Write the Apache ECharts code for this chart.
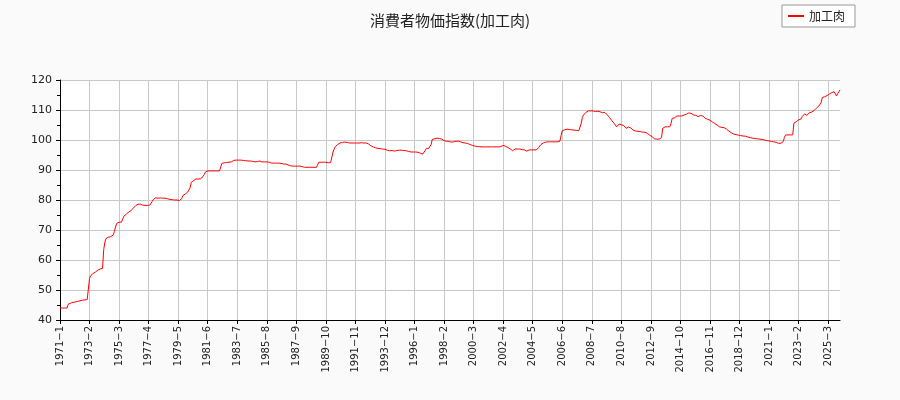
<!DOCTYPE html>
<html>

<head>
  <meta charset="utf-8" />
  <script src="https://cdn.jsdelivr.net/npm/echarts@6/dist/echarts.min.js"></script>
  <style>
    html, body { margin: 0; padding: 0; background: #fafafa; }
    #chart { width: 900px; height: 400px; }
  </style>
</head>

<body>
  <div id="chart"></div>
  <script type="text/javascript">
    const seriesName = "加工肉";
    const titleText = "消費者物価指数(加工肉)";
    const startYear = 1971;

    // monthly index values, one row per year starting 1971-1
    const v1971 = [44.0, 44.0, 44.0, 44.0, 44.0, 44.0, 44.0, 45.3, 45.5, 45.6, 45.8, 45.9];
    const v1972 = [46.0, 46.0, 46.1, 46.2, 46.3, 46.4, 46.5, 46.6, 46.6, 46.7, 46.8, 46.8];
    const v1973 = [46.8, 53.9, 54.8, 55.3, 55.5, 55.8, 56.0, 56.3, 56.6, 56.8, 57.0, 57.2];
    const v1974 = [57.2, 63.5, 66.0, 67.2, 67.5, 67.6, 67.6, 67.8, 68.0, 68.3, 69.5, 71.0];
    const v1975 = [72.2, 72.8, 72.6, 72.6, 72.6, 73.6, 74.6, 75.0, 75.2, 75.4, 76.0, 76.3];
    const v1976 = [76.4, 76.8, 77.3, 77.8, 78.1, 78.4, 78.6, 78.6, 78.6, 78.3, 78.3, 78.3];
    const v1977 = [78.2, 78.2, 78.2, 78.3, 78.3, 78.5, 79.5, 80.2, 80.5, 80.7, 80.6, 80.6];
    const v1978 = [80.6, 80.7, 80.7, 80.6, 80.6, 80.6, 80.5, 80.4, 80.2, 80.2, 80.1, 80.1];
    const v1979 = [80.0, 80.0, 80.0, 80.0, 79.9, 79.8, 79.5, 80.5, 81.5, 81.7, 82.0, 82.4];
    const v1980 = [82.6, 82.7, 84.0, 85.8, 86.0, 86.5, 86.9, 87.0, 87.0, 87.0, 87.0, 87.1];
    const v1981 = [87.2, 87.8, 88.5, 89.3, 89.7, 89.7, 89.7, 89.7, 89.7, 89.7, 89.7, 89.7];
    const v1982 = [89.7, 89.7, 89.7, 89.7, 89.8, 92.2, 92.3, 92.4, 92.5, 92.5, 92.5, 92.6];
    const v1983 = [92.6, 92.7, 93.0, 93.2, 93.3, 93.3, 93.3, 93.3, 93.3, 93.3, 93.2, 93.2];
    const v1984 = [93.2, 93.1, 93.0, 93.0, 93.0, 93.0, 93.0, 92.9, 92.9, 92.7, 92.7, 92.8];
    const v1985 = [93.3, 93.0, 92.7, 92.7, 92.7, 92.7, 92.7, 92.7, 92.7, 92.6, 92.4, 92.3];
    const v1986 = [92.3, 92.3, 92.3, 92.3, 92.3, 92.3, 92.3, 92.2, 92.0, 92.0, 92.0, 92.0];
    const v1987 = [91.8, 91.7, 91.5, 91.4, 91.5, 91.3, 91.4, 91.3, 91.5, 91.3, 91.3, 91.3];
    const v1988 = [91.2, 91.1, 91.0, 90.9, 90.9, 90.9, 90.9, 90.9, 90.9, 90.9, 90.9, 90.9];
    const v1989 = [90.9, 90.9, 90.9, 92.6, 92.7, 92.6, 92.6, 92.6, 92.6, 92.6, 92.6, 92.4];
    const v1990 = [92.3, 92.5, 92.6, 96.0, 97.0, 97.8, 98.2, 98.5, 98.8, 99.0, 99.1, 99.2];
    const v1991 = [99.3, 99.3, 99.3, 99.2, 99.1, 99.0, 99.0, 99.0, 99.0, 99.0, 99.0, 99.0];
    const v1992 = [99.0, 99.0, 99.0, 99.1, 99.0, 99.0, 99.0, 99.0, 98.8, 98.7, 98.4, 98.1];
    const v1993 = [97.8, 97.7, 97.5, 97.4, 97.3, 97.2, 97.2, 97.1, 97.0, 97.0, 96.9, 96.9];
    const v1994 = [96.8, 96.6, 96.5, 96.4, 96.4, 96.5, 96.4, 96.3, 96.3, 96.5, 96.6, 96.6];
    const v1995 = [96.7, 96.6, 96.6, 96.5, 96.5, 96.4, 96.3, 96.2, 96.1, 96.0, 96.0, 96.0];
    const v1996 = [96.0, 96.0, 96.0, 95.9, 95.8, 95.6, 95.5, 95.3, 95.4, 96.5, 97.2, 97.2];
    const v1997 = [97.2, 97.3, 98.5, 100.2, 100.3, 100.4, 100.5, 100.6, 100.6, 100.5, 100.4, 100.3];
    const v1998 = [100.0, 99.8, 99.7, 99.6, 99.5, 99.5, 99.4, 99.3, 99.3, 99.4, 99.5, 99.6];
    const v1999 = [99.6, 99.6, 99.6, 99.4, 99.2, 99.1, 99.0, 99.0, 98.9, 98.8, 98.6, 98.5];
    const v2000 = [98.3, 98.2, 98.1, 98.0, 97.9, 97.8, 97.8, 97.8, 97.8, 97.7, 97.7, 97.7];
    const v2001 = [97.7, 97.7, 97.7, 97.7, 97.7, 97.7, 97.7, 97.7, 97.7, 97.7, 97.7, 97.7];
    const v2002 = [97.7, 97.8, 98.0, 98.2, 98.0, 97.9, 97.8, 97.5, 97.3, 97.0, 96.8, 96.4];
    const v2003 = [96.6, 97.0, 97.0, 97.0, 97.0, 97.0, 96.9, 96.8, 96.7, 96.7, 96.6, 96.3];
    const v2004 = [96.7, 96.7, 96.7, 96.7, 96.7, 96.7, 96.7, 96.7, 96.8, 97.5, 98.0, 98.5];
    const v2005 = [98.9, 99.0, 99.1, 99.3, 99.3, 99.4, 99.4, 99.4, 99.4, 99.4, 99.4, 99.4];
    const v2006 = [99.4, 99.4, 99.4, 99.6, 101.5, 103.1, 103.3, 103.4, 103.6, 103.6, 103.6, 103.5];
    const v2007 = [103.4, 103.4, 103.3, 103.3, 103.3, 103.2, 103.2, 103.1, 103.2, 105.5, 107.5, 108.3];
    const v2008 = [108.8, 109.2, 109.5, 109.7, 109.7, 109.7, 109.7, 109.7, 109.6, 109.5, 109.4, 109.6];
    const v2009 = [109.7, 109.4, 109.2, 109.1, 109.3, 109.2, 109.0, 108.4, 108.0, 107.5, 107.0, 106.4];
    const v2010 = [106.1, 105.5, 105.0, 104.4, 103.9, 105.3, 105.3, 105.1, 105.0, 104.8, 104.3, 103.9];
    const v2011 = [104.2, 104.3, 104.5, 104.0, 103.6, 103.3, 103.1, 103.0, 103.0, 102.9, 102.8, 102.8];
    const v2012 = [102.7, 102.6, 102.6, 102.6, 102.5, 102.2, 101.9, 101.6, 101.3, 101.1, 100.8, 100.4];
    const v2013 = [100.3, 100.3, 100.3, 100.3, 100.8, 100.8, 103.9, 104.3, 104.4, 104.4, 104.4, 104.3];
    const v2014 = [104.4, 105.5, 107.2, 107.2, 107.4, 107.6, 108.0, 108.3, 108.0, 107.8, 108.0, 108.2];
    const v2015 = [108.3, 108.4, 108.6, 108.8, 109.0, 109.1, 108.9, 108.7, 108.4, 108.3, 108.2, 108.0];
    const v2016 = [107.8, 108.0, 108.2, 108.3, 108.0, 107.4, 107.2, 107.0, 106.9, 106.7, 106.6, 106.3];
    const v2017 = [106.0, 105.8, 105.5, 105.2, 105.0, 104.7, 104.4, 104.2, 104.2, 104.1, 104.1, 104.0];
    const v2018 = [103.6, 103.2, 103.0, 102.7, 102.4, 102.1, 102.0, 101.9, 101.8, 101.7, 101.6, 101.6];
    const v2019 = [101.5, 101.4, 101.3, 101.3, 101.3, 101.2, 101.0, 100.9, 100.8, 100.7, 100.6, 100.5];
    const v2020 = [100.5, 100.4, 100.4, 100.3, 100.3, 100.2, 100.2, 100.1, 100.0, 99.9, 99.8, 99.7];
    const v2021 = [99.7, 99.6, 99.5, 99.4, 99.4, 99.3, 99.2, 99.0, 98.9, 98.9, 98.9, 98.9];
    const v2022 = [99.5, 100.9, 101.7, 101.7, 101.7, 101.7, 101.7, 101.7, 101.7, 105.6, 106.0, 106.1];
    const v2023 = [106.7, 106.7, 106.7, 107.0, 107.8, 108.3, 108.7, 108.9, 108.2, 107.6, 109.1, 109.2];
    const v2024 = [109.3, 109.4, 109.8, 110.2, 110.6, 111.0, 111.3, 111.5, 112.4, 114.2, 114.2, 114.4];
    const v2025 = [114.5, 114.8, 115.0, 115.3, 115.6, 115.8, 116.0, 116.1, 115.5, 114.7, 115.4, 115.8];
    const v2026 = [116.7];

    const values = [].concat(
      v1971, v1972, v1973, v1974, v1975, v1976, v1977, v1978, v1979, v1980,
      v1981, v1982, v1983, v1984, v1985, v1986, v1987, v1988, v1989, v1990,
      v1991, v1992, v1993, v1994, v1995, v1996, v1997, v1998, v1999, v2000,
      v2001, v2002, v2003, v2004, v2005, v2006, v2007, v2008, v2009, v2010,
      v2011, v2012, v2013, v2014, v2015, v2016, v2017, v2018, v2019, v2020,
      v2021, v2022, v2023, v2024, v2025, v2026
    );

    // category labels "YYYY-M"
    const months = values.map((_, i) => (startYear + Math.floor(i / 12)) + "-" + (i % 12 + 1));

    const chart = echarts.init(document.getElementById("chart"));
    const font = "DejaVu Sans";

    var option = {
      animation: false,
      backgroundColor: "#fafafa",
      title: {
        text: titleText,
        left: "center",
        top: 8,
        textStyle: { fontFamily: "Noto Sans CJK JP", fontSize: 15, fontWeight: "normal", color: "#222" }
      },
      legend: {
        right: 45,
        top: 5,
        padding: [5, 10, 5, 6],
        borderColor: "#999",
        borderWidth: 1,
        borderRadius: 0,
        backgroundColor: "#fff",
        itemWidth: 16,
        itemHeight: 2,
        itemGap: 8,
        icon: "rect",
        textStyle: { fontFamily: "Noto Sans CJK JP", fontSize: 12, color: "#222" },
        data: [seriesName]
      },
      grid: {
        left: 60,
        right: 60,
        top: 80,
        bottom: 80,
        show: true,
        backgroundColor: "#fff",
        borderWidth: 0
      },
      xAxis: {
        type: "category",
        data: months,
        boundaryGap: false,
        axisLine: { lineStyle: { color: "#000", width: 1 } },
        axisTick: { interval: 24, length: 4, lineStyle: { color: "#000" } },
        axisLabel: {
          interval: 24,
          rotate: 90,
          fontFamily: font,
          fontSize: 10,
          color: "#222",
          margin: 6,
          formatter: s => s.replace("-", "\u2212")
        },
        splitLine: { show: true, interval: 24, lineStyle: { color: "#c8c8c8", width: 1 } }
      },
      yAxis: {
        type: "value",
        min: 40,
        max: 120,
        interval: 10,
        axisLine: { show: true, lineStyle: { color: "#000", width: 1 } },
        axisTick: { show: true, length: 4, lineStyle: { color: "#000" } },
        minorTick: { show: true, splitNumber: 2, length: 3, lineStyle: { color: "#000" } },
        axisLabel: { fontFamily: font, fontSize: 11, color: "#222", margin: 8 },
        splitLine: { show: true, lineStyle: { color: "#c8c8c8", width: 1 } }
      },
      series: [
        {
          name: seriesName,
          type: "line",
          data: values,
          showSymbol: false,
          symbol: "none",
          color: "#ff0000",
          lineStyle: { color: "#ff0000", width: 1 }
        }
      ]
    };

    chart.setOption(option);
  </script>
</body>

</html>
